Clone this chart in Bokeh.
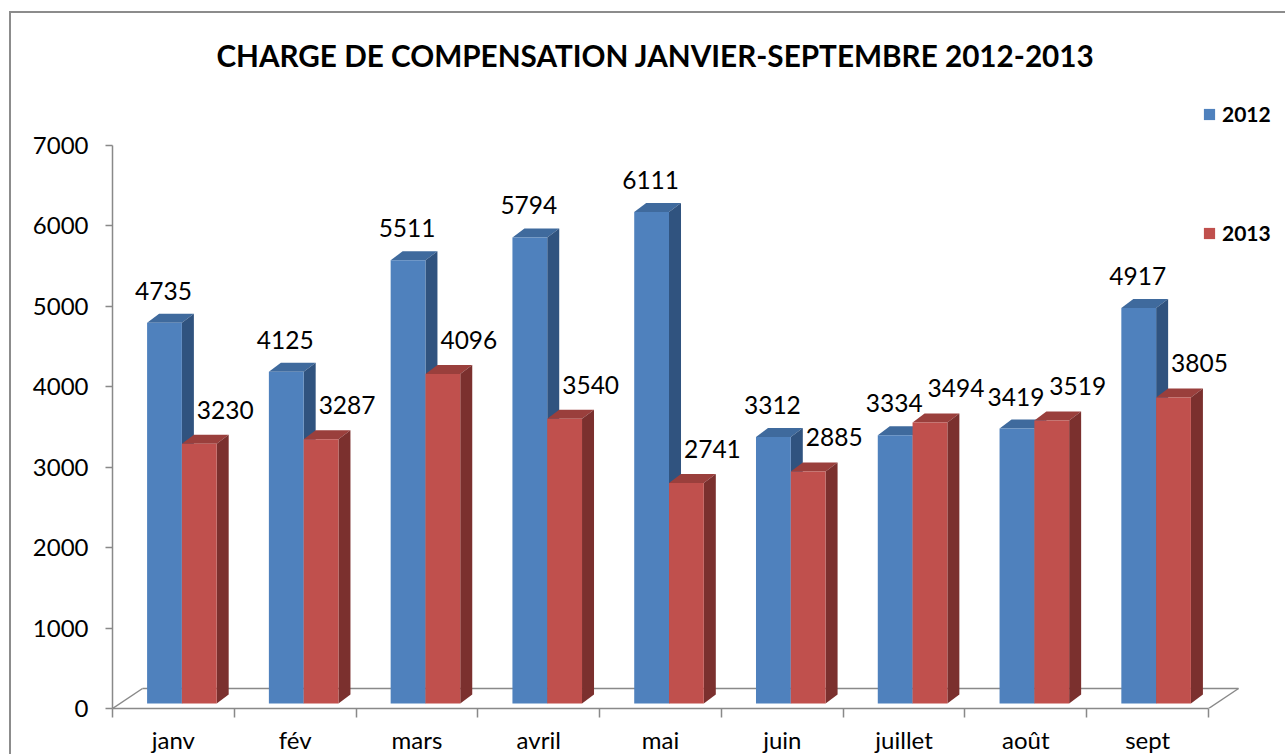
from bokeh.plotting import figure
from bokeh.models import (Range1d, LinearAxis, FixedTicker, Legend, LegendItem, Label)
from bokeh.core.properties import value
from bokeh.embed import file_html
from bokeh.resources import INLINE

# ---------------- data ----------------
months = ["janv", "fév", "mars", "avril", "mai", "juin", "juillet", "août", "sept"]
vals_2012 = [4735, 4125, 5511, 5794, 6111, 3312, 3334, 3419, 4917]
vals_2013 = [3230, 3287, 4096, 3540, 2741, 2885, 3494, 3519, 3805]
series_names = ["2012", "2013"]
y_ticks = [0, 1000, 2000, 3000, 4000, 5000, 6000, 7000]
title_text = "CHARGE DE COMPENSATION JANVIER-SEPTEMBRE 2012-2013"

# ---------------- layout / style ----------------
PAGE_W, PAGE_H = 1287, 756
OX, OY = 11, 13                  # canvas origin on the page (after margin + border)
W, H = PAGE_W - OX, PAGE_H - OY
AXIS_X, AXIS_Y = 112, 708        # page position of the value axis and of value 0
LEFT = AXIS_X - OX
BOTTOM = PAGE_H - AXIS_Y
PX_X = 121.78                    # pixels per category
PX_Y = 563.0 / 7000.0            # pixels per value unit
FONT = "Lato"
GREY = "#898989"

BLUE = ("#4F81BD", "#3F6A9D", "#30537F")   # front, top, side
RED = ("#C0504D", "#9A3F3C", "#7B302E")

x_range = Range1d(0, (PAGE_W - AXIS_X) / PX_X)
y_range = Range1d(0, (AXIS_Y - OY) / PX_Y)

# 3D offsets in data units
FDX, FDY = 30 / PX_X, 20 / PX_Y    # floor depth
BDX, BDY = 8.5 / PX_X, 5 / PX_Y    # bar plane offset
DDX, DDY = 12 / PX_X, 9 / PX_Y     # bar depth
BW = 1 / 3.5                       # bar width (gap 150%)

p = figure(width=W, height=H, x_range=x_range, y_range=y_range,
           output_backend="svg", toolbar_location=None,
           min_border_left=LEFT, min_border_right=0, min_border_top=0,
           min_border_bottom=BOTTOM, x_axis_type=None, y_axis_type=None,
           styles={"margin-left": "9px", "margin-top": "11px",
                   "border-left": "2px solid #8c8c8c",
                   "border-top": "2px solid #8c8c8c"})
p.outline_line_color = None
p.background_fill_color = "white"
p.border_fill_color = "white"

n = len(months)
# floor (back, left and right edges)
p.line(x=[FDX, n + FDX], y=[FDY, FDY], line_color=GREY, line_width=1.5)
p.line(x=[0, FDX], y=[0, FDY], line_color=GREY, line_width=1.5)
p.line(x=[n, n + FDX], y=[0, FDY], line_color=GREY, line_width=1.5)

label_dx = [-1, 26]     # px offsets of the value labels, per series
label_dy = [-32, -34]

front_renderers = []
for s, (vals, cols) in enumerate([(vals_2012, BLUE), (vals_2013, RED)]):
    lefts = [i + 0.5 + BDX - BW + s * BW for i in range(n)]
    rights = [l + BW for l in lefts]
    tops = [BDY + v for v in vals]
    bottoms = [BDY] * n
    top_xs = [[l, r, r + DDX, l + DDX] for l, r in zip(lefts, rights)]
    top_ys = [[t, t, t + DDY, t + DDY] for t in tops]
    side_xs = [[r, r + DDX, r + DDX, r] for r in rights]
    side_ys = [[BDY, BDY + DDY, t + DDY, t] for t in tops]
    p.patches(xs=top_xs, ys=top_ys, fill_color=cols[1], line_color=None)
    p.patches(xs=side_xs, ys=side_ys, fill_color=cols[2], line_color=None)
    fr = p.quad(left=lefts, right=rights, bottom=bottoms, top=tops,
                fill_color=cols[0], line_color=None)
    front_renderers.append(fr)
    centers = [(l + r) / 2 for l, r in zip(lefts, rights)]
    p.text(x=centers, y=tops, text=[str(v) for v in vals],
           text_font=value(FONT), text_font_size="24.5px",
           text_align="center", text_baseline="middle", text_color="black",
           x_offset=label_dx[s], y_offset=label_dy[s])

# axes
yaxis = LinearAxis(bounds=(0, 7000), ticker=FixedTicker(ticks=y_ticks, minor_ticks=[]),
                   major_tick_out=7, major_tick_in=0, minor_tick_out=0, minor_tick_in=0,
                   axis_line_color=GREY, axis_line_width=1.5,
                   major_tick_line_color=GREY, major_tick_line_width=1.5,
                   major_label_text_font=FONT, major_label_text_font_size="24px",
                   major_label_text_color="black", major_label_standoff=17)
p.add_layout(yaxis, "left")

centers_x = [i + 0.5 for i in range(n)]
xaxis = LinearAxis(bounds=(0, n),
                   ticker=FixedTicker(ticks=centers_x, minor_ticks=list(range(n + 1))),
                   major_label_overrides={c: m for c, m in zip(centers_x, months)},
                   major_tick_out=0, major_tick_in=0, minor_tick_out=9, minor_tick_in=0,
                   axis_line_color=GREY, axis_line_width=1.5,
                   minor_tick_line_color=GREY, minor_tick_line_width=1.5,
                   major_label_text_font=FONT, major_label_text_font_size="24px",
                   major_label_text_color="black", major_label_standoff=7)
p.add_layout(xaxis, "below")

# legends (one per series, stacked far apart as in the original)
legend_centers_y = [114, 233]    # page y of each legend swatch centre
for name, rend, cy in zip(series_names, front_renderers, legend_centers_y):
    leg = Legend(items=[LegendItem(label=name, renderers=[rend])],
                 location=(1202 - AXIS_X, AXIS_Y - (cy + 12)), padding=0, margin=0,
                 border_line_color=None, background_fill_alpha=0,
                 glyph_width=14, glyph_height=14, label_standoff=6,
                 label_text_font=FONT, label_text_font_style="bold",
                 label_text_font_size="21px", label_text_color="black",
                 label_height=14)
    p.add_layout(leg)

# title
p.add_layout(Label(x=(655 - AXIS_X) / PX_X, y=(AXIS_Y - 55) / PX_Y, text=title_text,
                   text_font=FONT, text_font_style="bold", text_font_size="29.7px",
                   text_align="center", text_baseline="middle", text_color="black"))

open("out.html", "w").write(file_html(p, INLINE))
